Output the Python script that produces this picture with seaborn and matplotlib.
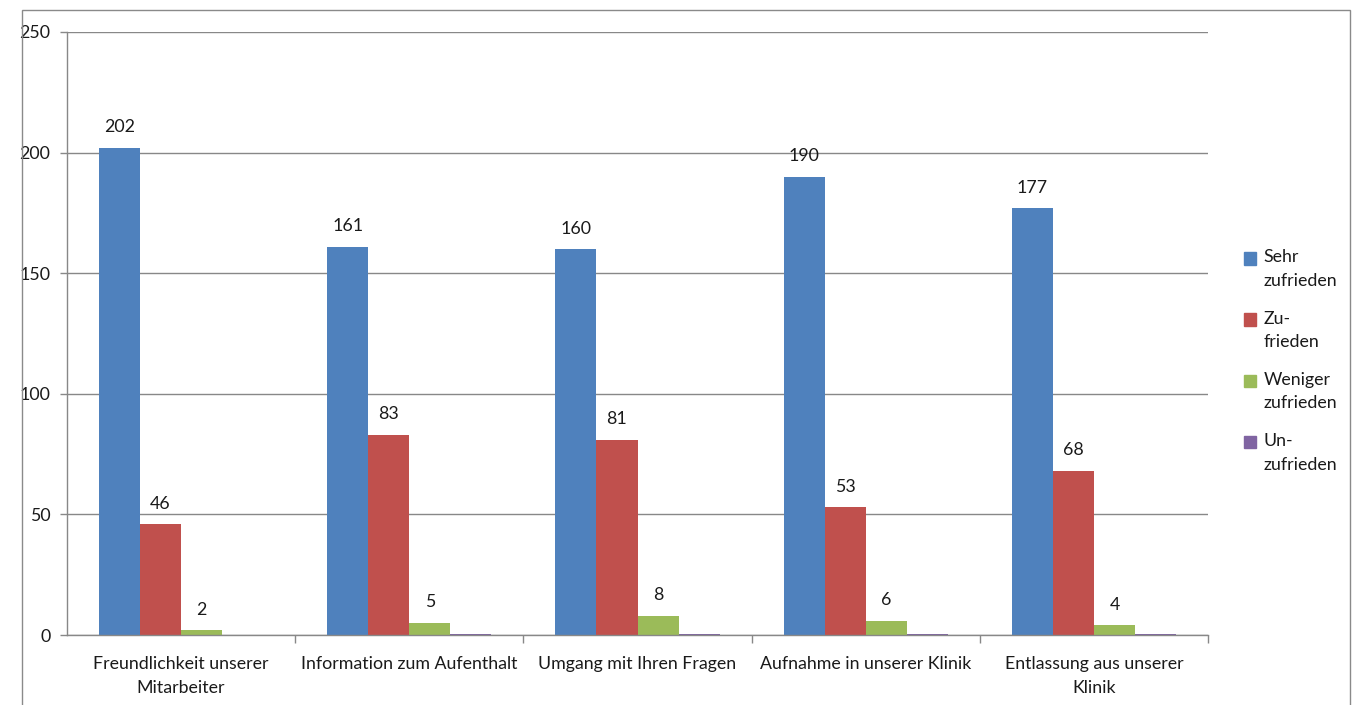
import matplotlib
matplotlib.use("Agg")
import matplotlib.pyplot as plt
import matplotlib.patches as mpatches
import seaborn as sns
import pandas as pd

# Survey results per question
categories = [
    "Freundlichkeit unserer\nMitarbeiter",
    "Information zum Aufenthalt",
    "Umgang mit Ihren Fragen",
    "Aufnahme in unserer Klinik",
    "Entlassung aus unserer\nKlinik",
]
series_names = ["Sehr\nzufrieden", "Zu-\nfrieden", "Weniger\nzufrieden", "Un-\nzufrieden"]
sehr_zufrieden = [202, 161, 160, 190, 177]
zufrieden = [46, 83, 81, 53, 68]
weniger_zufrieden = [2, 5, 8, 6, 4]
unzufrieden = [0, 0.4, 0.4, 0.4, 0.4]
labelled = [True, True, True, False]
y_ticks = [0, 50, 100, 150, 200, 250]

colors = ["#4F81BD", "#C0504D", "#9BBB59", "#8064A2"]

values = [sehr_zufrieden, zufrieden, weniger_zufrieden, unzufrieden]
df = pd.DataFrame(
    [
        {"Frage": c, "Bewertung": s, "Anzahl": v}
        for s, vals in zip(series_names, values)
        for c, v in zip(categories, vals)
    ]
)

sns.set_theme(style="white")
plt.rcParams["font.family"] = ["Lato", "DejaVu Sans"]
FS = 12.8
TXT = "#1a1a1a"

fig = plt.figure(figsize=(13.54, 7.05), dpi=100)
ax = fig.add_axes([67 / 1354, 1 - 635 / 705, (1208 - 67) / 1354, (635 - 32) / 705])

sns.barplot(
    data=df, x="Frage", y="Anzahl", hue="Bewertung",
    order=categories, hue_order=series_names, palette=colors,
    width=0.72, dodge=True, linewidth=0, saturation=1, ax=ax, legend=True,
)

# Value labels above the first three series
for container, show in zip(ax.containers, labelled):
    if show:
        ax.bar_label(container, labels=[f"{v:g}" for v in container.datavalues],
                     padding=9, fontsize=FS, color=TXT)

grid_col = "#888888"
ax.set_ylim(0, 250)
ax.set_xlim(-0.5, len(categories) - 0.5)
ax.set_yticks(y_ticks)
ax.yaxis.grid(True, color=grid_col, linewidth=1)
ax.set_axisbelow(True)
ax.set_xlabel("")
ax.set_ylabel("")
for side in ["top", "right"]:
    ax.spines[side].set_visible(False)
for side in ["left", "bottom"]:
    ax.spines[side].set_color(grid_col)
    ax.spines[side].set_linewidth(1)

ax.tick_params(axis="y", left=True, length=5, width=1, color=grid_col,
               labelsize=FS, labelcolor=TXT, pad=7)
ax.tick_params(axis="x", bottom=False, labelsize=FS, labelcolor=TXT, pad=9)
ax.set_xticks(range(len(categories)))
ax.set_xticklabels(categories, linespacing=1.6)
ax.set_xticks([i + 0.5 for i in range(len(categories))], minor=True)
ax.tick_params(axis="x", which="minor", bottom=True, length=6, width=1, color=grid_col)

handles = [mpatches.Patch(color=c) for c in colors]
leg = ax.legend(
    handles, series_names, loc="center left",
    bbox_to_anchor=(1228 / 1354, 1 - 361 / 705), bbox_transform=fig.transFigure,
    frameon=False, fontsize=FS, handlelength=0.7, handleheight=0.7,
    handletextpad=0.4, labelspacing=1.2,
)
for t in leg.get_texts():
    t.set_color(TXT)
    t.set_linespacing(1.6)
for h in leg.legend_handles:
    h.set_y(h.get_y() + 8)

# Outer chart frame
fig.patches.append(mpatches.Rectangle(
    (22 / 1354, -0.05), (1350 - 22) / 1354, 1.05 - 10 / 705,
    transform=fig.transFigure, fill=False, edgecolor="#8a8a8a", linewidth=1,
))

fig.savefig("out.png", dpi=100, facecolor="white")
